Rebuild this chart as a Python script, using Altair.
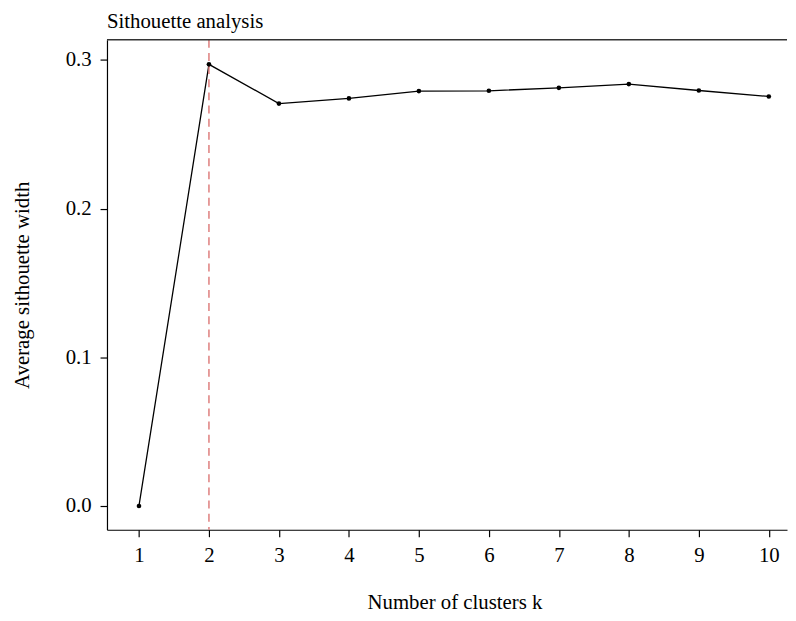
import altair as alt
import pandas as pd

k = [1, 2, 3, 4, 5, 6, 7, 8, 9, 10]
sil = [0.0, 0.2970, 0.2706, 0.2741, 0.2790, 0.2792, 0.2812, 0.2837, 0.2794, 0.2754]
optimal_k = [2]
y_ticks = [0.0, 0.1, 0.2, 0.3]
chart_title = "Sithouette analysis"
x_title = "Number of clusters k"
y_title = "Average sithouette width"

FONT = "Liberation Serif"
FS = 21

df = pd.DataFrame({"k": k, "sil": sil})
dv = pd.DataFrame({"k": optimal_k})

xscale = alt.Scale(domain=[0.543, 10.26], nice=False, zero=False)
yscale = alt.Scale(domain=[-0.016, 0.3135], nice=False, zero=False)

axis_common = dict(
    grid=False, domainColor="black", domainWidth=1.2, tickColor="black",
    tickWidth=1.2, tickSize=7, labelFont=FONT, labelFontSize=FS,
    labelColor="black", titleFont=FONT, titleFontSize=FS,
    titleFontWeight="normal", titleColor="black",
)

x_enc = alt.X("k:Q", scale=xscale,
              axis=alt.Axis(values=k, title=x_title, labelPadding=8,
                            titlePadding=27, titleX=351, **axis_common))
y_enc = alt.Y("sil:Q", scale=yscale,
              axis=alt.Axis(values=y_ticks, format=".1f", title=y_title,
                            labelPadding=9, titlePadding=33, **axis_common))

line = alt.Chart(df).mark_line(color="black", strokeWidth=1.3).encode(
    x=x_enc, y=y_enc
)

pts = alt.Chart(df).mark_circle(color="black", size=22, opacity=1).encode(
    x=x_enc, y=y_enc
)

vline = alt.Chart(dv).mark_rule(
    color="#db7573", strokeDash=[8, 5.3], strokeWidth=1.4
).encode(x=x_enc)

# top frame line of the plot box
top = alt.Chart(dv).mark_rule(color="#333333", strokeWidth=1.4).encode(
    x=alt.value(0), x2=alt.value("width"), y=alt.value(0)
)

chart = alt.layer(line, vline, pts, top).properties(
    width=687, height=495,
    title=alt.TitleParams(chart_title, anchor="start", frame="group", font=FONT,
                          fontSize=FS, fontWeight="normal", color="black",
                          offset=7),
    padding={"left": 3, "right": 0, "top": 0, "bottom": 0},
).configure_view(stroke=None)

chart.save("out.html", embed_options={"renderer": "svg", "actions": False})
